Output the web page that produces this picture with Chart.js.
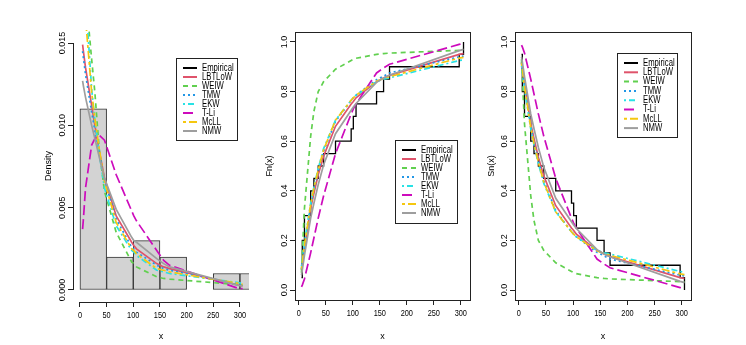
<!DOCTYPE html>
<html>
<head>
<meta charset="utf-8">
<script src="https://cdn.jsdelivr.net/npm/chart.js@4.4.1/dist/chart.umd.min.js"></script>
<style>
  html, body { margin: 0; padding: 0; background: #fff; }
  #wrap { position: relative; width: 746px; height: 345px; overflow: hidden; }
  canvas { position: absolute; top: 0; }
</style>
</head>
<body>
<div id="wrap">
  <canvas id="pdf" width="250" height="345" style="left:0px"></canvas>
  <canvas id="cdf" width="240" height="345" style="left:250px"></canvas>
  <canvas id="sf" width="276" height="345" style="left:470px"></canvas>
</div>
<script>
// ---- data ----
var seriesNames = ['Empirical', 'LBTLoW', 'WEIW', 'TMW', 'EKW', 'T-Li', 'McLL', 'NMW'];

var xTicks = [0, 50, 100, 150, 200, 250, 300];
var densTicks = [0, 0.005, 0.010, 0.015];
var densTickLabels = ['0.000', '0.005', '0.010', '0.015'];
var probTicks = [0, 0.2, 0.4, 0.6, 0.8, 1.0];
var probTickLabels = ['0.0', '0.2', '0.4', '0.6', '0.8', '1.0'];

// histogram (bin mids, density)
var histMids = [25, 75, 125, 175, 225, 275, 325];
var histDensity = [0.011, 0.002, 0.003, 0.002, 0, 0.001, 0.001];

// sorted observations (ties merged) and empirical step heights
var obsX = [5, 6.5, 10.5, 22, 28, 36, 46, 68, 97, 101, 106, 144, 157, 168, 297, 305];
var empFn = [0.05, 0.20, 0.30, 0.40, 0.45, 0.50, 0.55, 0.60, 0.65, 0.70, 0.75, 0.80, 0.85, 0.90, 0.95, 1.00];
var empSn = [0.95, 0.80, 0.70, 0.60, 0.55, 0.50, 0.45, 0.40, 0.35, 0.30, 0.25, 0.20, 0.15, 0.10, 0.05, 0.00];

// fitted densities at obsX
var pdfLBTLoW = [0.0149, 0.0145, 0.0135, 0.0112, 0.0100, 0.0085, 0.0068, 0.0045, 0.0029, 0.0027, 0.0025, 0.0016, 0.0014, 0.0013, 0.0003, 0.00025];
var pdfWEIW   = [0.0195, 0.0190, 0.0181, 0.0140, 0.0120, 0.0086, 0.0060, 0.0035, 0.0017, 0.0016, 0.0014, 0.0008, 0.0007, 0.00066, 0.00032, 0.0003];
var pdfTMW    = [0.0145, 0.0141, 0.0131, 0.0108, 0.0097, 0.0083, 0.0067, 0.0043, 0.0026, 0.0025, 0.0023, 0.0015, 0.0013, 0.0012, 0.00035, 0.0003];
var pdfEKW    = [0.0210, 0.0200, 0.0178, 0.0122, 0.0103, 0.0083, 0.0062, 0.0039, 0.0024, 0.0023, 0.0021, 0.0012, 0.0011, 0.0010, 0.00045, 0.0004];
var pdfTLi    = [0.0037, 0.0043, 0.0062, 0.0088, 0.0092, 0.0094, 0.0091, 0.0070, 0.0048, 0.0045, 0.0042, 0.0024, 0.0018, 0.0015, 0.0001, 0.00008];
var pdfMcLL   = [0.0190, 0.0185, 0.0165, 0.0120, 0.0104, 0.0086, 0.0066, 0.0041, 0.0025, 0.0024, 0.0022, 0.0013, 0.0012, 0.0011, 0.0004, 0.00035];
var pdfNMW    = [0.0127, 0.0124, 0.0117, 0.0100, 0.0092, 0.0081, 0.0068, 0.0049, 0.0032, 0.0030, 0.0029, 0.0019, 0.0016, 0.0014, 0.00028, 0.00025];

// fitted cdfs at obsX
var cdfLBTLoW = [0.08, 0.10, 0.17, 0.33, 0.39, 0.465, 0.54, 0.66, 0.75, 0.76, 0.775, 0.84, 0.855, 0.865, 0.95, 0.953];
var cdfWEIW   = [0.07, 0.14, 0.33, 0.62, 0.72, 0.80, 0.84, 0.89, 0.925, 0.93, 0.934, 0.95, 0.953, 0.955, 0.966, 0.967];
var cdfTMW    = [0.085, 0.11, 0.175, 0.34, 0.40, 0.48, 0.56, 0.68, 0.765, 0.775, 0.785, 0.848, 0.862, 0.875, 0.94, 0.943];
var cdfEKW    = [0.095, 0.12, 0.19, 0.35, 0.415, 0.49, 0.57, 0.685, 0.765, 0.775, 0.785, 0.84, 0.85, 0.855, 0.925, 0.928];
var cdfTLi    = [0.013, 0.02, 0.045, 0.15, 0.21, 0.29, 0.38, 0.55, 0.71, 0.73, 0.75, 0.875, 0.895, 0.91, 0.99, 0.995];
var cdfMcLL   = [0.085, 0.11, 0.18, 0.345, 0.41, 0.485, 0.565, 0.685, 0.765, 0.775, 0.785, 0.842, 0.853, 0.86, 0.935, 0.938];
var cdfNMW    = [0.06, 0.08, 0.14, 0.29, 0.35, 0.425, 0.505, 0.63, 0.725, 0.738, 0.752, 0.837, 0.855, 0.866, 0.965, 0.97];

// fitted survival functions at obsX
var sfLBTLoW = [0.92, 0.90, 0.83, 0.67, 0.61, 0.535, 0.46, 0.34, 0.25, 0.24, 0.225, 0.16, 0.145, 0.135, 0.05, 0.047];
var sfWEIW   = [0.93, 0.86, 0.67, 0.38, 0.28, 0.20, 0.16, 0.11, 0.075, 0.07, 0.066, 0.05, 0.047, 0.045, 0.034, 0.033];
var sfTMW    = [0.915, 0.89, 0.825, 0.66, 0.60, 0.52, 0.44, 0.32, 0.235, 0.225, 0.215, 0.152, 0.138, 0.125, 0.06, 0.057];
var sfEKW    = [0.905, 0.88, 0.81, 0.65, 0.585, 0.51, 0.43, 0.315, 0.235, 0.225, 0.215, 0.16, 0.15, 0.145, 0.075, 0.072];
var sfTLi    = [0.987, 0.98, 0.955, 0.85, 0.79, 0.71, 0.62, 0.45, 0.29, 0.27, 0.25, 0.125, 0.105, 0.09, 0.01, 0.005];
var sfMcLL   = [0.915, 0.89, 0.82, 0.655, 0.59, 0.515, 0.435, 0.315, 0.235, 0.225, 0.215, 0.158, 0.147, 0.14, 0.065, 0.062];
var sfNMW    = [0.94, 0.92, 0.86, 0.71, 0.65, 0.575, 0.495, 0.37, 0.275, 0.262, 0.248, 0.163, 0.145, 0.134, 0.035, 0.03];

// ---- styles ----
var seriesColors = ['#000000', '#DF536B', '#61D04F', '#2297E6', '#28E2E5', '#CD0BBC', '#F5C710', '#9E9E9E'];
var seriesDash = [[], [], [5, 4], [2, 3], [2, 3, 6, 3], [10, 4], [3, 3, 8, 3], []];
var FONT = "'Liberation Sans', Arial, sans-serif";

function pts(xs, ys) {
  return xs.map(function (x, j) { return { x: x, y: ys[j] }; });
}

function fitSets(cols) {
  return cols.map(function (ys, i) {
    var k = i + 1;
    return {
      type: 'line',
      label: seriesNames[k],
      data: pts(obsX, ys),
      borderColor: seriesColors[k],
      borderDash: seriesDash[k],
      borderWidth: 1.7,
      pointRadius: 0,
      tension: 0,
      fill: false,
      order: -k
    };
  });
}

function empSet(ys) {
  return {
    type: 'line',
    label: seriesNames[0],
    data: ys ? pts(obsX, ys) : [],
    borderColor: seriesColors[0],
    borderDash: [],
    borderWidth: 1.3,
    stepped: true,
    pointRadius: 0,
    fill: false,
    order: 0
  };
}

// draw text squeezed horizontally (the reference text is narrow)
function narrowText(ctx, txt, x, y, sx) {
  ctx.save();
  ctx.translate(x, y);
  ctx.scale(sx, 1);
  ctx.fillText(txt, 0, 0);
  ctx.restore();
}

// R-like axes: tick labels, box or short axis lines
var rAxes = {
  id: 'rAxes',
  afterDraw: function (chart, args, o) {
    var ctx = chart.ctx, ca = chart.chartArea;
    var xs = chart.scales.x, ys = chart.scales.y;
    ctx.save();
    ctx.strokeStyle = '#222';
    ctx.lineWidth = 1;
    ctx.setLineDash([]);
    if (o.box) {
      ctx.strokeRect(Math.round(ca.left) + 0.5, Math.round(ca.top) + 0.5,
        Math.round(ca.right - ca.left), Math.round(ca.bottom - ca.top));
    } else {
      var yA = ys.getPixelForValue(o.yTicks[0]), yB = ys.getPixelForValue(o.yTicks[o.yTicks.length - 1]);
      var xA = xs.getPixelForValue(xTicks[0]), xB = xs.getPixelForValue(xTicks[xTicks.length - 1]);
      var lx = Math.round(ca.left) + 0.5, by = Math.round(ca.bottom) + 0.5;
      ctx.beginPath();
      ctx.moveTo(lx, yA); ctx.lineTo(lx, yB);
      ctx.moveTo(xA, by); ctx.lineTo(xB, by);
      ctx.stroke();
    }
    ctx.fillStyle = '#000';
    ctx.font = '9px ' + FONT;
    ctx.textAlign = 'center';
    ctx.textBaseline = 'middle';
    o.yTicks.forEach(function (v, i) {
      ctx.save();
      ctx.translate(ca.left - o.gap, ys.getPixelForValue(v));
      ctx.rotate(-Math.PI / 2);
      ctx.fillText(o.yLabels[i], 0, 0);
      ctx.restore();
    });
    xTicks.forEach(function (v) {
      narrowText(ctx, String(v), xs.getPixelForValue(v), ca.bottom + 14, 0.82);
    });
    ctx.restore();
  }
};

var rLegend = {
  id: 'rLegend',
  afterDraw: function (chart, args, o) {
    var ctx = chart.ctx;
    var sets = chart.data.datasets.filter(function (d) { return d.type === 'line'; });
    sets.sort(function (a, b) { return seriesNames.indexOf(a.label) - seriesNames.indexOf(b.label); });
    ctx.save();
    ctx.fillStyle = '#fff';
    ctx.fillRect(o.x, o.y, o.w, o.h);
    ctx.strokeStyle = '#222';
    ctx.lineWidth = 1;
    ctx.strokeRect(o.x + 0.5, o.y + 0.5, o.w, o.h);
    ctx.font = '10px ' + FONT;
    ctx.textBaseline = 'middle';
    ctx.textAlign = 'left';
    sets.forEach(function (d, i) {
      var yy = o.row0 + i * o.step;
      ctx.strokeStyle = d.borderColor;
      ctx.lineWidth = 2;
      ctx.setLineDash(d.borderDash || []);
      ctx.beginPath();
      ctx.moveTo(o.x + 7, yy);
      ctx.lineTo(o.x + 21, yy);
      ctx.stroke();
      ctx.fillStyle = '#000';
      narrowText(ctx, d.label, o.x + 26, yy, 0.77);
    });
    ctx.restore();
  }
};

function xScale(min, max, bottomGap) {
  return {
    type: 'linear', min: min, max: max, offset: false,
    afterBuildTicks: function (s) { s.ticks = xTicks.map(function (v) { return { value: v }; }); },
    afterFit: function (s) { s.height = bottomGap; },
    border: { display: false },
    grid: { offset: false, drawOnChartArea: false, drawTicks: true, tickLength: 5, color: '#222' },
    ticks: { display: false },
    title: { display: true, text: 'x', color: '#000', font: { family: FONT, size: 9 },
      padding: { top: 0, bottom: 3 } }
  };
}

function yScale(min, max, ticks, leftW, title, titlePad) {
  return {
    type: 'linear', min: min, max: max,
    afterBuildTicks: function (s) { s.ticks = ticks.map(function (v) { return { value: v }; }); },
    afterFit: function (s) { s.width = leftW; },
    border: { display: false },
    grid: { drawOnChartArea: false, drawTicks: true, tickLength: 5, color: '#222' },
    ticks: { display: false },
    title: { display: true, text: title, color: '#000', font: { family: FONT, size: 9 },
      padding: { top: titlePad, bottom: 0 } }
  };
}

function baseOptions(pad, scales, axesOpt, legendOpt) {
  return {
    responsive: false,
    animation: false,
    events: [],
    layout: { padding: pad },
    scales: scales,
    plugins: {
      legend: { display: false },
      tooltip: { enabled: false },
      rAxes: axesOpt,
      rLegend: legendOpt
    }
  };
}

// ---- panel 1: histogram with fitted densities ----
new Chart(document.getElementById('pdf'), {
  type: 'bar',
  data: {
    datasets: [{
      type: 'bar',
      label: 'hist',
      data: pts(histMids, histDensity),
      backgroundColor: '#D3D3D3',
      borderColor: '#333',
      borderWidth: 1,
      borderSkipped: false,
      barPercentage: 1,
      categoryPercentage: 1,
      order: 1
    }, empSet(null)].concat(fitSets([pdfLBTLoW, pdfWEIW, pdfTMW, pdfEKW, pdfTLi, pdfMcLL, pdfNMW]))
  },
  options: baseOptions(
    { left: 0, top: 30, right: 1, bottom: 0 },
    { x: xScale(-13, 317, 43), y: yScale(-0.00073, 0.01579, densTicks, 73, 'Density', 43) },
    { box: false, gap: 10, yTicks: densTicks, yLabels: densTickLabels },
    { x: 176, y: 58, w: 61, h: 82, row0: 68, step: 9 }
  ),
  plugins: [rAxes, rLegend]
});

// ---- panel 2: empirical and fitted cdfs ----
new Chart(document.getElementById('cdf'), {
  type: 'line',
  data: {
    datasets: [empSet(empFn)].concat(fitSets([cdfLBTLoW, cdfWEIW, cdfTMW, cdfEKW, cdfTLi, cdfMcLL, cdfNMW]))
  },
  options: baseOptions(
    { left: 0, top: 32, right: 20, bottom: 0 },
    { x: xScale(-7, 317, 45), y: yScale(-0.04, 1.04, probTicks, 45, 'Fn(x)', 14.5) },
    { box: true, gap: 10.5, yTicks: probTicks, yLabels: probTickLabels },
    { x: 145, y: 140, w: 62, h: 83, row0: 150, step: 9 }
  ),
  plugins: [rAxes, rLegend]
});

// ---- panel 3: empirical and fitted survival functions ----
new Chart(document.getElementById('sf'), {
  type: 'line',
  data: {
    datasets: [empSet(empSn)].concat(fitSets([sfLBTLoW, sfWEIW, sfTMW, sfEKW, sfTLi, sfMcLL, sfNMW]))
  },
  options: baseOptions(
    { left: 0, top: 32, right: 55, bottom: 0 },
    { x: xScale(-7, 317, 45), y: yScale(-0.04, 1.04, probTicks, 45, 'Sn(x)', 16.5) },
    { box: true, gap: 10.5, yTicks: probTicks, yLabels: probTickLabels },
    { x: 147, y: 53, w: 60, h: 84, row0: 63, step: 9.3 }
  ),
  plugins: [rAxes, rLegend]
});
</script>
</body>
</html>
